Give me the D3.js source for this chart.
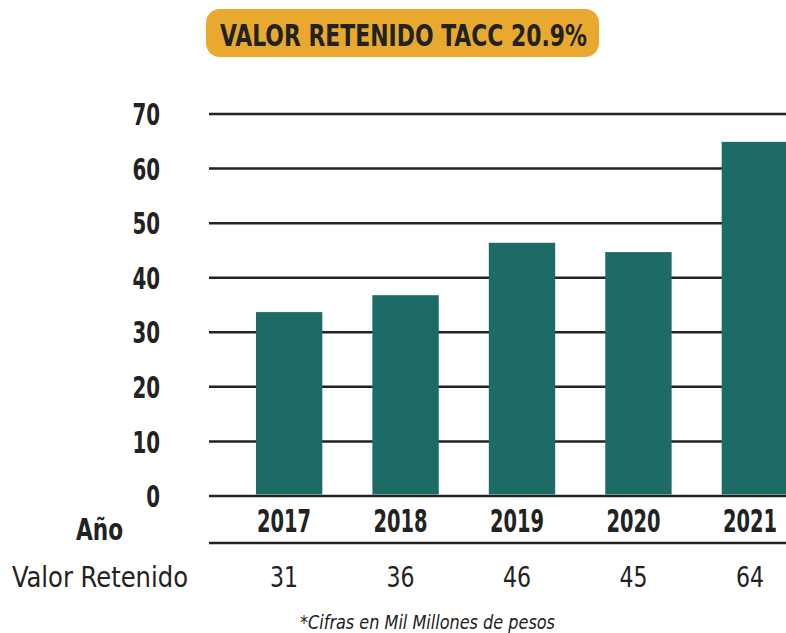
<!DOCTYPE html>
<html>
<head>
<meta charset="utf-8">
<script src="https://cdn.jsdelivr.net/npm/d3@7"></script>
<style>
  html, body { margin: 0; padding: 0; background: #fff; }
  svg { display: block; font-family: "DejaVu Sans Condensed", "DejaVu Sans", sans-serif; }
</style>
</head>
<body>
<div id="chart"></div>
<script>
(() => {
  const years = ["2017", "2018", "2019", "2020", "2021"];
  // bar heights
  const barValues = [33.7, 36.8, 46.4, 44.7, 64.9];
  // values printed in the table row
  const tableValues = ["31", "36", "46", "45", "64"];
  const yTicks = [0, 10, 20, 30, 40, 50, 60, 70];
  const title = "VALOR RETENIDO TACC 20.9%";
  const rowLabel = "Valor Retenido";
  const axisLabel = "Año";
  const note = "*Cifras en Mil Millones de pesos";

  const width = 786;
  const height = 633;
  const ink = "#222";
  const barColor = "#1d6b67";
  const digitW = 13.8; // condensed digit width, px

  const svg = d3.select("#chart")
    .append("svg")
    .attr("width", width)
    .attr("height", height);

  const x = d3.scaleBand()
    .domain(years)
    .range([221, 823])
    .paddingInner(0.43)
    .paddingOuter(0.3);

  const y = d3.scaleLinear()
    .domain([0, 70])
    .range([496, 114]);

  // label column centre, a little left of the bar centre
  const colX = d => x(d) + x.bandwidth() / 2 - 5;

  // title badge
  svg.append("rect")
    .attr("x", 206)
    .attr("y", 9)
    .attr("width", 393)
    .attr("height", 48)
    .attr("rx", 14)
    .attr("fill", "#e9a92f");

  svg.append("text")
    .attr("x", 220)
    .attr("y", 46)
    .attr("textLength", 367)
    .attr("lengthAdjust", "spacingAndGlyphs")
    .attr("fill", ink)
    .style("font-weight", "bold")
    .style("font-size", "30px")
    .text(title);

  // gridlines
  svg.append("g")
    .selectAll("line")
    .data(yTicks)
    .join("line")
    .attr("x1", 209)
    .attr("x2", width)
    .attr("y1", d => y(d))
    .attr("y2", d => y(d))
    .attr("stroke", ink)
    .attr("stroke-width", 2.5);

  // y labels
  svg.append("g")
    .selectAll("text")
    .data(yTicks)
    .join("text")
    .attr("x", d => 160 - String(d).length * digitW)
    .attr("y", d => y(d))
    .attr("dy", "0.36em")
    .attr("textLength", d => String(d).length * digitW)
    .attr("lengthAdjust", "spacingAndGlyphs")
    .attr("fill", ink)
    .style("font-weight", "bold")
    .style("font-size", "31px")
    .text(d => d);

  // bars
  svg.append("g")
    .selectAll("rect")
    .data(years.map((yr, i) => ({ yr, v: barValues[i] })))
    .join("rect")
    .attr("x", d => x(d.yr))
    .attr("width", x.bandwidth())
    .attr("y", d => y(d.v))
    .attr("height", d => y(0) - y(d.v) - 1.5)
    .attr("fill", barColor);

  // line under the years
  svg.append("line")
    .attr("x1", 209)
    .attr("x2", width)
    .attr("y1", 543)
    .attr("y2", 543)
    .attr("stroke", ink)
    .attr("stroke-width", 2.5);

  // year row
  svg.append("text")
    .attr("x", 76)
    .attr("y", 540)
    .attr("textLength", 47)
    .attr("lengthAdjust", "spacingAndGlyphs")
    .attr("fill", ink)
    .style("font-weight", "bold")
    .style("font-size", "30px")
    .text(axisLabel);

  svg.append("g")
    .selectAll("text")
    .data(years)
    .join("text")
    .attr("x", d => colX(d) - 27)
    .attr("y", 532)
    .attr("textLength", 54)
    .attr("lengthAdjust", "spacingAndGlyphs")
    .attr("fill", ink)
    .style("font-weight", "bold")
    .style("font-size", "32px")
    .text(d => d);

  // value row
  svg.append("text")
    .attr("x", 12)
    .attr("y", 587)
    .attr("textLength", 176)
    .attr("lengthAdjust", "spacingAndGlyphs")
    .attr("fill", ink)
    .style("font-size", "28px")
    .text(rowLabel);

  svg.append("g")
    .selectAll("text")
    .data(years.map((yr, i) => ({ yr, t: tableValues[i] })))
    .join("text")
    .attr("x", d => colX(d.yr) - 14)
    .attr("y", 587)
    .attr("textLength", 28)
    .attr("lengthAdjust", "spacingAndGlyphs")
    .attr("fill", ink)
    .style("font-size", "28px")
    .text(d => d.t);

  svg.append("text")
    .attr("x", 300)
    .attr("y", 629)
    .attr("textLength", 255)
    .attr("lengthAdjust", "spacingAndGlyphs")
    .attr("fill", ink)
    .style("font-style", "italic")
    .style("font-size", "20px")
    .text(note);
})();
</script>
</body>
</html>
